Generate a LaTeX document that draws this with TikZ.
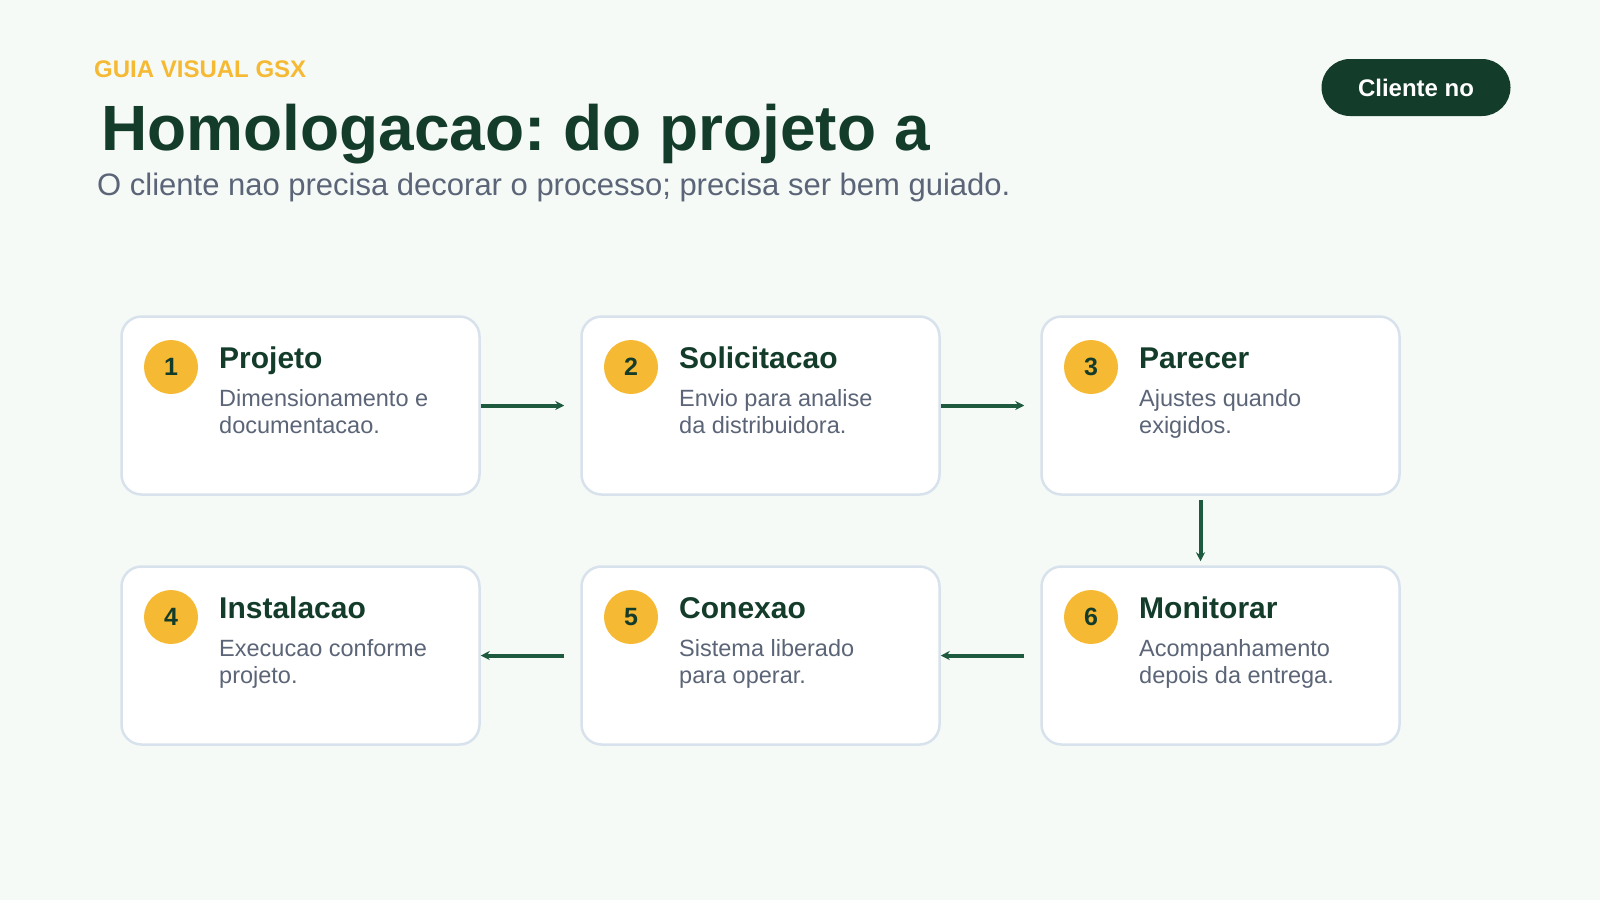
\documentclass[tikz,border=0pt]{standalone}
\usepackage{fontspec}
\setmainfont{Liberation Sans}
\usetikzlibrary{arrows.meta,calc}
\definecolor{bgc}{HTML}{F5FAF7}
\definecolor{darkg}{HTML}{143C2A}
\definecolor{arrowg}{HTML}{1E5A3E}
\definecolor{goldc}{HTML}{F6B933}
\definecolor{grayt}{HTML}{5B6577}
\definecolor{borderc}{HTML}{D8E2EC}
\tikzset{
  stepbox/.style={draw=borderc, line width=2.5pt, fill=white, rounded corners=20pt,
    minimum width=358pt, minimum height=178pt, inner sep=0pt},
  numdot/.style={circle, fill=goldc, minimum size=54pt, inner sep=0pt,
    font=\bfseries\fontsize{25}{25}\selectfont, text=darkg},
  steptitle/.style={anchor=base west, inner sep=0pt, text=darkg,
    font=\bfseries\fontsize{30}{30}\selectfont},
  stepdesc/.style={anchor=base west, inner sep=0pt, text=grayt, align=left,
    font=\fontsize{23.5}{26.5}\selectfont},
  flow/.style={draw=arrowg, line width=4pt, -{Stealth[length=9pt,width=9pt]}}
}
\begin{document}
\frenchspacing
\begin{tikzpicture}[x=1pt,y=-1pt]
\fill[bgc] (0,0) rectangle (1600,900);
\useasboundingbox (0,0) rectangle (1600,900);

\node[anchor=base west, inner sep=0pt, text=goldc, font=\bfseries\fontsize{24}{24}\selectfont] (kicker) at (94,77) {GUIA VISUAL GSX};
\node[anchor=base west, inner sep=0pt, text=darkg, font=\bfseries\fontsize{64}{64}\selectfont] (title) at (101,150) {Homologacao: do projeto a};
\node[anchor=base west, inner sep=0pt, text=grayt, font=\fontsize{31}{31}\selectfont] (subtitle) at (97,195) {O cliente nao precisa decorar o processo; precisa ser bem guiado.};

\node[fill=darkg, rounded corners=28.5pt, minimum width=189pt, minimum height=57pt, inner sep=0pt,
  text=white, font=\bfseries\fontsize{24}{24}\selectfont] (pill) at (1416,87.5) {\raisebox{-3pt}{Cliente no}};

% boxes
\node[stepbox] (b1) at (300.5,405.5) {};
\node[stepbox] (b2) at (760.5,405.5) {};
\node[stepbox] (b3) at (1220.5,405.5) {};
\node[stepbox] (b4) at (300.5,655.5) {};
\node[stepbox] (b5) at (760.5,655.5) {};
\node[stepbox] (b6) at (1220.5,655.5) {};

% step 1
\node[numdot] (n1) at (171,367) {1};
\node[steptitle] (t1) at (219,368) {Projeto};
\node[stepdesc] (d1) at (219,433) {Dimensionamento e\\documentacao.};
% step 2
\node[numdot] (n2) at (631,367) {2};
\node[steptitle] (t2) at (679,368) {Solicitacao};
\node[stepdesc] (d2) at (679,433) {Envio para analise\\da distribuidora.};
% step 3
\node[numdot] (n3) at (1091,367) {3};
\node[steptitle] (t3) at (1139,368) {Parecer};
\node[stepdesc] (d3) at (1139,433) {Ajustes quando\\exigidos.};
% step 4
\node[numdot] (n4) at (171,617) {4};
\node[steptitle] (t4) at (219,618) {Instalacao};
\node[stepdesc] (d4) at (219,683) {Execucao conforme\\projeto.};
% step 5
\node[numdot] (n5) at (631,617) {5};
\node[steptitle] (t5) at (679,618) {Conexao};
\node[stepdesc] (d5) at (679,683) {Sistema liberado\\para operar.};
% step 6
\node[numdot] (n6) at (1091,617) {6};
\node[steptitle] (t6) at (1139,618) {Monitorar};
\node[stepdesc] (d6) at (1139,683) {Acompanhamento\\depois da entrega.};

% connectors
\coordinate (e12) at ($(b2.west)+(-16,0)$);
\coordinate (e23) at ($(b3.west)+(-16,0)$);
\coordinate (s54) at ($(b5.west)+(-16,0)$);
\coordinate (s65) at ($(b6.west)+(-16,0)$);
\coordinate (s36) at ($(b3.south)+(-20,4)$);
\coordinate (e36) at ($(b6.north)+(-20,-4)$);
\draw[flow] (b1.east) -- (e12);
\draw[flow] (b2.east) -- (e23);
\draw[flow] (s36) -- (e36);
\draw[flow] (s65) -- (b5.east);
\draw[flow] (s54) -- (b4.east);
\end{tikzpicture}
\end{document}
